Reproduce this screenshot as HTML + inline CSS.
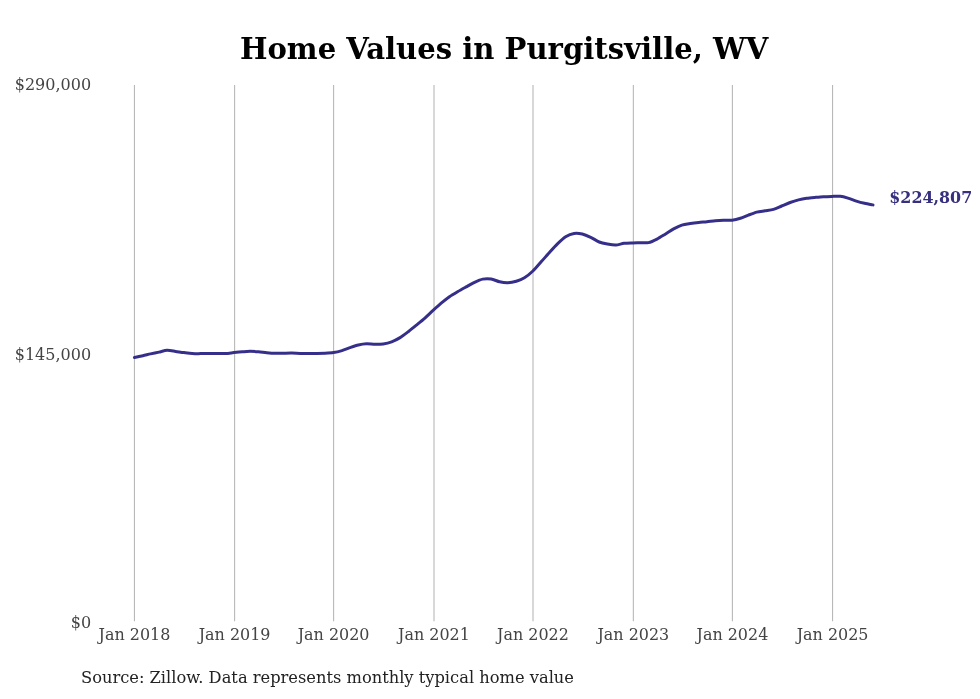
<!DOCTYPE html>
<html><head><meta charset="utf-8"><title>Home Values in Purgitsville, WV</title>
<style>
html,body{margin:0;padding:0;background:#fff;}
svg{display:block;font-family:"DejaVu Serif","Liberation Serif",serif;}
.grid line{stroke:#b8b8b8;stroke-width:1.1;}
.xl text{font-size:15.95px;fill:#444;text-anchor:middle;}
.yl text{font-size:16px;fill:#444;text-anchor:end;}
</style></head><body>
<svg width="980" height="699" viewBox="0 0 980 699">
<rect width="980" height="699" fill="#fff"/>
<text x="504.1" y="59.1" text-anchor="middle" font-size="29.1px" font-weight="bold" fill="#000">Home Values in Purgitsville, WV</text>
<g class="grid"><line x1="134.45" y1="85.0" x2="134.45" y2="621.3"/><line x1="234.60" y1="85.0" x2="234.60" y2="621.3"/><line x1="333.60" y1="85.0" x2="333.60" y2="621.3"/><line x1="434.00" y1="85.0" x2="434.00" y2="621.3"/><line x1="533.00" y1="85.0" x2="533.00" y2="621.3"/><line x1="633.35" y1="85.0" x2="633.35" y2="621.3"/><line x1="732.40" y1="85.0" x2="732.40" y2="621.3"/><line x1="832.55" y1="85.0" x2="832.55" y2="621.3"/></g>
<g class="yl"><text x="91.1" y="90">$290,000</text><text x="91.1" y="360">$145,000</text><text x="91.1" y="628">$0</text></g>
<g class="xl"><text x="134.45" y="640.3">Jan 2018</text><text x="234.60" y="640.3">Jan 2019</text><text x="333.60" y="640.3">Jan 2020</text><text x="434.00" y="640.3">Jan 2021</text><text x="533.00" y="640.3">Jan 2022</text><text x="633.35" y="640.3">Jan 2023</text><text x="732.40" y="640.3">Jan 2024</text><text x="832.55" y="640.3">Jan 2025</text></g>
<path d="M134.45 357.50 C135.58 357.26 140.76 356.18 142.90 355.70 C145.05 355.22 148.40 354.38 150.54 353.90 C152.69 353.42 156.78 352.58 159.00 352.10 C161.21 351.62 164.96 350.39 167.18 350.30 C169.40 350.21 173.41 351.09 175.63 351.40 C177.85 351.71 181.60 352.31 183.81 352.60 C186.03 352.89 190.01 353.47 192.27 353.60 C194.52 353.73 198.50 353.60 200.72 353.60 C202.94 353.60 206.69 353.60 208.91 353.60 C211.12 353.60 215.14 353.61 217.36 353.60 C219.58 353.59 223.32 353.63 225.54 353.50 C227.76 353.37 231.74 352.83 234.00 352.60 C236.25 352.37 240.31 351.97 242.45 351.80 C244.60 351.63 247.94 351.30 250.09 351.30 C252.23 351.30 256.32 351.61 258.54 351.80 C260.76 351.99 264.51 352.50 266.72 352.70 C268.94 352.90 272.96 353.23 275.18 353.30 C277.40 353.37 281.14 353.23 283.36 353.20 C285.58 353.17 289.56 353.07 291.81 353.10 C294.07 353.13 298.05 353.35 300.27 353.40 C302.49 353.45 306.23 353.49 308.45 353.50 C310.67 353.51 314.69 353.53 316.91 353.50 C319.12 353.47 322.87 353.42 325.09 353.30 C327.31 353.18 331.29 352.96 333.54 352.60 C335.80 352.24 339.81 351.25 342.00 350.60 C344.18 349.95 347.72 348.45 349.91 347.70 C352.09 346.95 356.14 345.52 358.36 345.00 C360.58 344.48 364.32 343.89 366.54 343.80 C368.76 343.71 372.78 344.29 375.00 344.30 C377.22 344.31 380.96 344.23 383.18 343.90 C385.40 343.57 389.38 342.64 391.63 341.80 C393.89 340.96 397.87 338.95 400.09 337.60 C402.31 336.25 406.05 333.39 408.27 331.70 C410.49 330.01 414.51 326.71 416.72 324.90 C418.94 323.09 422.69 320.06 424.91 318.10 C427.12 316.14 431.11 312.25 433.36 310.20 C435.62 308.15 439.67 304.50 441.82 302.70 C443.96 300.90 447.31 298.19 449.45 296.70 C451.60 295.21 455.69 292.81 457.91 291.50 C460.12 290.19 463.87 288.13 466.09 286.90 C468.31 285.67 472.32 283.34 474.54 282.30 C476.76 281.26 480.51 279.54 482.72 279.10 C484.94 278.66 488.92 278.64 491.18 279.00 C493.43 279.36 497.42 281.31 499.63 281.80 C501.85 282.29 505.60 282.78 507.82 282.70 C510.03 282.62 514.05 281.85 516.27 281.20 C518.49 280.55 522.23 279.16 524.45 277.80 C526.67 276.44 530.65 273.16 532.91 271.00 C535.16 268.84 539.22 264.00 541.36 261.60 C543.51 259.20 546.85 255.36 549.00 253.00 C551.14 250.64 555.23 246.06 557.45 243.90 C559.67 241.74 563.42 238.20 565.63 236.80 C567.85 235.40 571.87 233.77 574.09 233.40 C576.31 233.03 580.05 233.48 582.27 234.00 C584.49 234.52 588.47 236.23 590.73 237.30 C592.98 238.37 596.96 241.11 599.18 242.00 C601.40 242.89 605.14 243.60 607.36 244.00 C609.58 244.40 613.60 245.09 615.82 245.00 C618.03 244.91 621.78 243.58 624.00 243.30 C626.22 243.02 630.20 242.97 632.45 242.90 C634.71 242.83 638.76 242.84 640.91 242.80 C643.05 242.76 646.40 243.09 648.54 242.60 C650.69 242.11 654.78 240.22 657.00 239.10 C659.22 237.98 662.96 235.56 665.18 234.20 C667.40 232.84 671.42 230.11 673.64 228.90 C675.85 227.69 679.60 225.82 681.82 225.10 C684.04 224.38 688.02 223.86 690.27 223.50 C692.53 223.14 696.51 222.64 698.73 222.40 C700.94 222.16 704.69 221.93 706.91 221.70 C709.13 221.47 713.14 220.90 715.36 220.70 C717.58 220.50 721.33 220.27 723.54 220.20 C725.76 220.13 729.74 220.45 732.00 220.20 C734.25 219.95 738.27 218.98 740.45 218.30 C742.64 217.62 746.18 215.93 748.36 215.10 C750.54 214.27 754.60 212.67 756.82 212.10 C759.04 211.53 762.78 211.16 765.00 210.80 C767.22 210.44 771.24 210.04 773.45 209.40 C775.67 208.76 779.42 206.92 781.64 206.00 C783.85 205.08 787.84 203.31 790.09 202.50 C792.34 201.69 796.33 200.46 798.54 199.90 C800.76 199.34 804.51 198.63 806.73 198.30 C808.95 197.97 812.96 197.61 815.18 197.40 C817.40 197.19 821.15 196.83 823.36 196.70 C825.58 196.57 829.56 196.45 831.82 196.40 C834.07 196.35 838.13 196.07 840.27 196.30 C842.42 196.53 845.76 197.46 847.91 198.10 C850.05 198.74 854.15 200.41 856.36 201.10 C858.58 201.79 862.33 202.79 864.55 203.30 C866.76 203.81 871.87 204.69 873.00 204.90" fill="none" stroke="#352f8a" stroke-width="3" stroke-linecap="round" stroke-linejoin="round"/>
<text x="889.3" y="202.8" font-size="15.9px" font-weight="bold" fill="#36307f">$224,807</text>
<text x="81" y="683.3" font-size="16.28px" fill="#222">Source: Zillow. Data represents monthly typical home value</text>
</svg>
</body></html>
